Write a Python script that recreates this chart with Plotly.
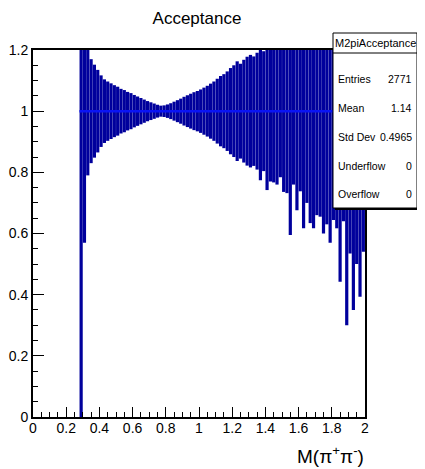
import plotly.graph_objects as go

# ---------------- data ----------------
bin_width = 0.02
bin_centers = [
    0.29, 0.31, 0.33, 0.35, 0.37, 0.39, 0.41, 0.43, 0.45, 0.47,
    0.49, 0.51, 0.53, 0.55, 0.57, 0.59, 0.61, 0.63, 0.65, 0.67,
    0.69, 0.71, 0.73, 0.75, 0.77, 0.79, 0.81, 0.83, 0.85, 0.87,
    0.89, 0.91, 0.93, 0.95, 0.97, 0.99, 1.01, 1.03, 1.05, 1.07,
    1.09, 1.11, 1.13, 1.15, 1.17, 1.19, 1.21, 1.23, 1.25, 1.27,
    1.29, 1.31, 1.33, 1.35, 1.37, 1.39, 1.41, 1.43, 1.45, 1.47,
    1.49, 1.51, 1.53, 1.55, 1.57, 1.59, 1.61, 1.63, 1.65, 1.67,
    1.69, 1.71, 1.73, 1.75, 1.77, 1.79, 1.81, 1.83, 1.85, 1.87,
    1.89, 1.91, 1.93, 1.95, 1.97, 1.99,
]
bin_contents = [
    1.0, 1.0, 1.0, 1.0, 1.0, 1.0, 1.0, 1.0, 1.0, 1.0,
    1.0, 1.0, 1.0, 1.0, 1.0, 1.0, 1.0, 1.0, 1.0, 1.0,
    1.0, 1.0, 1.0, 1.0, 1.0, 1.0, 1.0, 1.0, 1.0, 1.0,
    1.0, 1.0, 1.0, 1.0, 1.0, 1.0, 1.0, 1.0, 1.0, 1.0,
    1.0, 1.0, 1.0, 1.0, 1.0, 1.0, 1.0, 1.0, 1.0, 1.0,
    1.0, 1.0, 1.0, 1.0, 1.0, 1.0, 1.0, 1.0, 1.0, 1.0,
    1.0, 1.0, 1.0, 1.0, 1.0, 1.0, 1.0, 1.0, 1.0, 1.0,
    1.0, 1.0, 1.0, 1.0, 1.0, 1.0, 1.0, 1.0, 1.0, 1.0,
    1.0, 1.0, 1.0, 1.0, 1.0, 1.0,
]
bin_errors = [
    1.000, 0.430, 0.210, 0.170, 0.152, 0.135, 0.117, 0.104, 0.097, 0.091,
    0.085, 0.080, 0.073, 0.069, 0.063, 0.059, 0.053, 0.048, 0.043, 0.038,
    0.033, 0.029, 0.025, 0.021, 0.018, 0.019, 0.022, 0.026, 0.031, 0.036,
    0.041, 0.047, 0.052, 0.057, 0.062, 0.066, 0.071, 0.077, 0.083, 0.090,
    0.097, 0.106, 0.115, 0.121, 0.130, 0.141, 0.150, 0.163, 0.155, 0.168,
    0.178, 0.184, 0.179, 0.191, 0.226, 0.196, 0.258, 0.230, 0.233, 0.240,
    0.216, 0.264, 0.268, 0.405, 0.240, 0.324, 0.262, 0.383, 0.300, 0.366,
    0.383, 0.340, 0.345, 0.400, 0.370, 0.430, 0.356, 0.383, 0.558, 0.360,
    0.700, 0.465, 0.650, 0.500, 0.607, 0.460,
]

x_ticks = [0, 0.2, 0.4, 0.6, 0.8, 1, 1.2, 1.4, 1.6, 1.8, 2]
y_ticks = [0, 0.2, 0.4, 0.6, 0.8, 1, 1.2]

stats_title = "M2piAcceptance"
stats_labels = ["Entries", "Mean", "Std Dev", "Underflow", "Overflow"]
stats_values = ["2771", "1.14", "0.4965", "0", "0"]

# ---------------- geometry (screen pixels) ----------------
OFF = 8                      # page body margin
SW, SH = 425, 469            # window size
W, H = SW - OFF, SH - OFF    # figure size
PX0, PX1, PY0, PY1 = 33, 365, 50, 417
ML, MT = PX0 - OFF, PY0 - OFF
MR, MB = (OFF + W) - PX1, (OFF + H) - PY1
PW, PH = PX1 - PX0, PY1 - PY0


def px_x(p):
    return (p - PX0) / PW


def px_y(p):
    return (PY1 - p) / PH


FONT = "Liberation Sans, Arial, Helvetica, sans-serif"

fig = go.Figure()

# vertical error bars around each bin content
fig.add_trace(go.Scatter(
    x=bin_centers, y=bin_contents,
    mode="markers",
    marker=dict(size=1, color="rgba(0,0,0,0)"),
    error_y=dict(type="data", array=bin_errors, visible=True,
                 color="#00009c", thickness=3.2, width=0),
    showlegend=False, hoverinfo="skip",
))

# horizontal bin-content line (joined x error bars)
fig.add_trace(go.Scatter(
    x=[bin_centers[0] - bin_width / 2] + bin_centers + [bin_centers[-1] + bin_width / 2],
    y=[bin_contents[0]] + bin_contents + [bin_contents[-1]],
    mode="lines",
    line=dict(color="#0a14f5", width=2.5, shape="hv"),
    showlegend=False, hoverinfo="skip",
))

axis_common = dict(
    showgrid=False, zeroline=False,
    showline=True, linecolor="black", linewidth=2, mirror=True,
    ticks="inside", tickcolor="black", tickwidth=1,
    tickfont=dict(family=FONT, size=14, color="black"),
)

fig.update_xaxes(
    range=[0, 2], tickvals=x_ticks, ticklen=10, ticklabelstandoff=-3,
    minor=dict(dtick=0.05, tick0=0, ticks="inside", ticklen=5,
               tickcolor="black", tickwidth=1),
    **axis_common,
)
fig.update_yaxes(
    range=[0, 1.2], tickvals=y_ticks, ticklen=11,
    minor=dict(dtick=0.05, tick0=0, ticks="inside", ticklen=5,
               tickcolor="black", tickwidth=1),
    **axis_common,
)

shapes = []
annotations = []

# stats box shadow + box
bx0, bx1, by0, by1 = 333, 417, 33, 208
shapes.append(dict(type="rect", xref="paper", yref="paper",
                   x0=px_x(bx0 + 2), x1=px_x(bx1 + 2), y0=px_y(by1 + 2), y1=px_y(by0 + 2),
                   fillcolor="black", line=dict(width=0), layer="above"))
shapes.append(dict(type="rect", xref="paper", yref="paper",
                   x0=px_x(bx0), x1=px_x(bx1), y0=px_y(by1), y1=px_y(by0),
                   fillcolor="white", line=dict(color="black", width=1), layer="above"))
shapes.append(dict(type="line", xref="paper", yref="paper",
                   x0=px_x(bx0), x1=px_x(bx1), y0=px_y(53), y1=px_y(53),
                   line=dict(color="black", width=1), layer="above"))

annotations.append(dict(xref="paper", yref="paper", x=px_x((bx0 + bx1) / 2), y=px_y(43),
                        text=stats_title, showarrow=False, xanchor="center", yanchor="middle",
                        font=dict(family=FONT, size=11, color="black")))
row_y = [79, 108, 137, 166, 194]
for lab, val, yy in zip(stats_labels, stats_values, row_y):
    annotations.append(dict(xref="paper", yref="paper", x=px_x(336), y=px_y(yy),
                            text=lab, showarrow=False, xanchor="left", yanchor="middle",
                            font=dict(family=FONT, size=10.5, color="black")))
    annotations.append(dict(xref="paper", yref="paper", x=px_x(414), y=px_y(yy),
                            text=val, showarrow=False, xanchor="right", yanchor="middle",
                            font=dict(family=FONT, size=10.5, color="black")))

# x-axis title
annotations.append(dict(xref="paper", yref="paper", x=px_x(366), y=px_y(455),
                        text="M(π<sup>+</sup>π<sup>-</sup>)", showarrow=False,
                        xanchor="right", yanchor="middle",
                        font=dict(family=FONT, size=19, color="black")))

fig.update_layout(
    width=W, height=H,
    margin=dict(l=ML, r=MR, t=MT, b=MB, autoexpand=False),
    paper_bgcolor="white", plot_bgcolor="white",
    title=dict(text="Acceptance", x=(197 - OFF) / W, y=1 - (18 - OFF) / H,
               xanchor="center", yanchor="middle",
               font=dict(family=FONT, size=17, color="black")),
    shapes=shapes, annotations=annotations,
    showlegend=False,
)

fig.write_html("out.html")
